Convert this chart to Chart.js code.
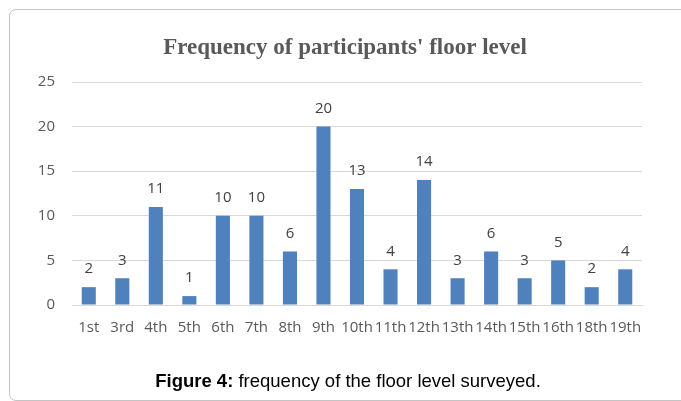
<!DOCTYPE html>
<html lang="en">

<head>
    <meta charset="UTF-8">
    <title>Frequency of participants' floor level</title>
    <style>
        body { margin: 0; background: #fff; overflow: hidden; }
        #wrap { position: relative; width: 681px; height: 401px; }
        #frame {
            position: absolute; left: 9px; top: 9px; width: 700px; height: 390px;
            border: 1px solid #c4c4c4; border-radius: 7px;
        }
        #caption {
            position: absolute; left: 0; width: 696px; top: 370px; text-align: center;
            font-family: "Liberation Sans", Arial, sans-serif; font-size: 18.5px; color: #000;
            line-height: 21px; white-space: nowrap;
        }
        canvas { position: absolute; left: 0; top: 0; }
    </style>
</head>

<body>
    <div id="wrap">
        <div id="frame"></div>
        <canvas id="myChart" width="681" height="401"></canvas>
        <div id="caption"><b>Figure 4:</b> frequency of the floor level surveyed.</div>
    </div>

    <script src="https://cdn.jsdelivr.net/npm/chart.js"></script>
    <script>
        let v_floors = ['1st', '3rd', '4th', '5th', '6th', '7th', '8th', '9th', '10th', '11th', '12th',
            '13th', '14th', '15th', '16th', '18th', '19th'];
        let v_count = [2, 3, 11, 1, 10, 10, 6, 20, 13, 4, 14, 3, 6, 3, 5, 2, 4];
        let v_yTicks = [0, 5, 10, 15, 20, 25];
        let v_title = "Frequency of participants' floor level";

        const labelFont = '"Open Sans", "DejaVu Sans", sans-serif';

        // value labels over the bars + the title (drawn by hand so it sits where the original does)
        const extras = {
            id: 'extras',
            afterDatasetsDraw(chart) {
                const ctx = chart.ctx;
                const meta = chart.getDatasetMeta(0);
                ctx.save();
                ctx.font = '15px ' + labelFont;
                ctx.fillStyle = '#404040';
                ctx.textAlign = 'center';
                ctx.textBaseline = 'middle';
                meta.data.forEach((bar, i) => {
                    ctx.fillText(v_count[i], bar.x, bar.y - 18);
                });

                ctx.font = 'bold 23px "Liberation Serif", "Times New Roman", serif';
                ctx.fillStyle = '#595959';
                ctx.textBaseline = 'alphabetic';
                ctx.fillText(v_title, 345, 54);
                ctx.restore();
            }
        };

        const ctx = document.getElementById('myChart');

        new Chart(ctx, {
            type: 'bar',
            data: {
                labels: v_floors,
                datasets: [{
                    data: v_count,
                    backgroundColor: '#4f81bd',
                    barPercentage: 0.42,
                    categoryPercentage: 1
                }]
            },
            options: {
                responsive: false,
                animation: false,
                layout: { padding: { left: 12, right: 39, top: 82, bottom: 56 } },
                scales: {
                    x: {
                        grid: { display: false, drawTicks: false },
                        border: { color: '#d9d9d9' },
                        ticks: {
                            color: '#595959', padding: 14, maxRotation: 0, autoSkip: false,
                            font: { family: labelFont, size: 15 }
                        },
                        afterFit(scale) { scale.height = 40; }
                    },
                    y: {
                        min: 0,
                        max: 25,
                        afterBuildTicks(scale) { scale.ticks = v_yTicks.map(v => ({ value: v })); },
                        grid: { color: '#d9d9d9', drawTicks: false },
                        border: { display: false },
                        ticks: {
                            color: '#595959', padding: 17,
                            font: { family: labelFont, size: 15 }
                        },
                        afterFit(scale) { scale.width = 60; }
                    }
                },
                plugins: {
                    legend: { display: false },
                    tooltip: { enabled: false }
                }
            },
            plugins: [extras]
        });
    </script>
</body>

</html>
